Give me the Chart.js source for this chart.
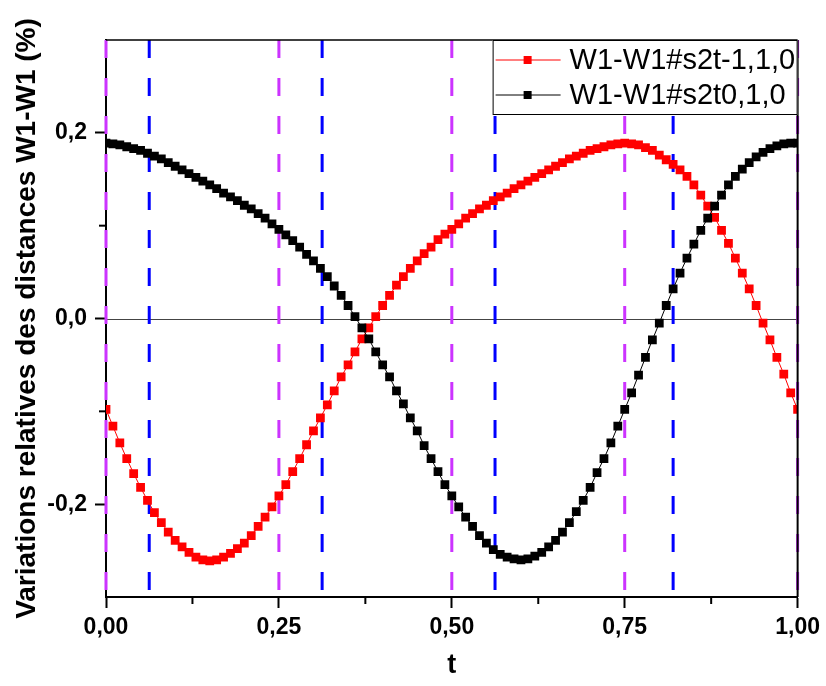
<!DOCTYPE html>
<html>
<head>
<meta charset="utf-8">
<script src="https://cdn.jsdelivr.net/npm/chart.js@4"></script>
<style>
  html, body { margin: 0; padding: 0; background: #fff; }
  #wrap { width: 826px; height: 686px; }
</style>
</head>
<body>
<div id="wrap"><canvas id="myChart" width="826" height="686"></canvas></div>
<script>
// t values (x axis)
const tValues = [
  0.00, 0.01, 0.02, 0.03, 0.04, 0.05, 0.06, 0.07, 0.08, 0.09,
  0.10, 0.11, 0.12, 0.13, 0.14, 0.15, 0.16, 0.17, 0.18, 0.19,
  0.20, 0.21, 0.22, 0.23, 0.24, 0.25, 0.26, 0.27, 0.28, 0.29,
  0.30, 0.31, 0.32, 0.33, 0.34, 0.35, 0.36, 0.37, 0.38, 0.39,
  0.40, 0.41, 0.42, 0.43, 0.44, 0.45, 0.46, 0.47, 0.48, 0.49,
  0.50, 0.51, 0.52, 0.53, 0.54, 0.55, 0.56, 0.57, 0.58, 0.59,
  0.60, 0.61, 0.62, 0.63, 0.64, 0.65, 0.66, 0.67, 0.68, 0.69,
  0.70, 0.71, 0.72, 0.73, 0.74, 0.75, 0.76, 0.77, 0.78, 0.79,
  0.80, 0.81, 0.82, 0.83, 0.84, 0.85, 0.86, 0.87, 0.88, 0.89,
  0.90, 0.91, 0.92, 0.93, 0.94, 0.95, 0.96, 0.97, 0.98, 0.99,
  1.00
];

// W1-W1#s2t-1,1,0 (red)
const redValues = [
  -0.098, -0.116, -0.134, -0.151, -0.167, -0.182, -0.196, -0.209, -0.220, -0.230,
  -0.239, -0.246, -0.252, -0.257, -0.260, -0.261, -0.260, -0.257, -0.253, -0.248,
  -0.242, -0.234, -0.224, -0.214, -0.203, -0.191, -0.179, -0.165, -0.151, -0.136,
  -0.121, -0.107, -0.093, -0.078, -0.063, -0.050, -0.036, -0.022, -0.010, 0.002,
  0.014, 0.025, 0.036, 0.045, 0.054, 0.062, 0.070, 0.077, 0.085, 0.091,
  0.096, 0.102, 0.108, 0.113, 0.118, 0.122, 0.127, 0.131, 0.135, 0.140,
  0.144, 0.148, 0.152, 0.156, 0.160, 0.164, 0.168, 0.172, 0.175, 0.178,
  0.181, 0.183, 0.185, 0.187, 0.188, 0.189, 0.188, 0.187, 0.184, 0.181,
  0.176, 0.171, 0.166, 0.160, 0.153, 0.144, 0.133, 0.121, 0.109, 0.095,
  0.081, 0.065, 0.049, 0.032, 0.014, -0.005, -0.023, -0.042, -0.060, -0.080,
  -0.098
];

// W1-W1#s2t0,1,0 (black)
const blackValues = [
  0.189, 0.188, 0.187, 0.185, 0.183, 0.181, 0.178, 0.175, 0.172, 0.168,
  0.164, 0.160, 0.156, 0.152, 0.148, 0.144, 0.140, 0.135, 0.131, 0.127,
  0.122, 0.118, 0.113, 0.108, 0.102, 0.096, 0.090, 0.084, 0.077, 0.069,
  0.062, 0.054, 0.045, 0.035, 0.025, 0.014, 0.002, -0.010, -0.022, -0.036,
  -0.050, -0.063, -0.078, -0.092, -0.107, -0.121, -0.137, -0.151, -0.165, -0.179,
  -0.191, -0.203, -0.214, -0.224, -0.234, -0.242, -0.249, -0.254, -0.257, -0.259,
  -0.260, -0.259, -0.256, -0.252, -0.246, -0.239, -0.230, -0.220, -0.208, -0.196,
  -0.182, -0.166, -0.151, -0.134, -0.116, -0.098, -0.080, -0.061, -0.042, -0.023,
  -0.005, 0.014, 0.032, 0.049, 0.065, 0.080, 0.095, 0.108, 0.121, 0.133,
  0.144, 0.153, 0.161, 0.168, 0.174, 0.179, 0.183, 0.186, 0.188, 0.189,
  0.189
];

const seriesLabels = ['W1-W1#s2t-1,1,0', 'W1-W1#s2t0,1,0'];
const xTicks = [0, 0.25, 0.5, 0.75, 1];
const xMinorTicks = [0.125, 0.375, 0.625, 0.875];
const yTicks = [-0.2, 0, 0.2];
const yMinorTicks = [-0.1, 0.1];
const magentaLines = [0, 0.25, 0.5, 0.75, 1];
const blueLines = [0.0625, 0.3125, 0.5625, 0.82];

const FONT = '"Liberation Sans", Arial, Helvetica, sans-serif';

function toPoints(values) {
    return values.map((v, i) => ({ x: tValues[i], y: v }));
}

// dashed vertical markers, zero line, box, minor ticks, legend
const decorPlugin = {
    id: 'decor',
    beforeDatasetsDraw(chart) {
        const { ctx, chartArea: a, scales: { x, y } } = chart;
        ctx.save();
        // zero line
        ctx.strokeStyle = '#444';
        ctx.lineWidth = 1;
        const y0 = Math.round(y.getPixelForValue(0)) + 0.5;
        ctx.beginPath();
        ctx.moveTo(a.left, y0);
        ctx.lineTo(a.right, y0);
        ctx.stroke();

        ctx.lineWidth = 3;
        ctx.setLineDash([18, 20]);
        const drawV = (vals, color) => {
            ctx.strokeStyle = color;
            vals.forEach(v => {
                const px = x.getPixelForValue(v);
                ctx.beginPath();
                ctx.moveTo(px, a.top);
                ctx.lineTo(px, a.bottom);
                ctx.stroke();
            });
        };
        drawV(magentaLines, '#cc33ff');
        drawV(blueLines, '#0000ff');
        ctx.restore();
    },
    afterDraw(chart) {
        const { ctx, chartArea: a, scales: { x, y } } = chart;
        ctx.save();
        // top and right frame
        ctx.strokeStyle = '#000';
        ctx.lineWidth = 1.5;
        ctx.beginPath();
        ctx.moveTo(a.left, a.top);
        ctx.lineTo(a.right, a.top);
        ctx.stroke();
        ctx.lineWidth = 2;
        ctx.beginPath();
        ctx.moveTo(a.right, a.top);
        ctx.lineTo(a.right, a.bottom);
        ctx.stroke();

        // minor ticks
        ctx.lineWidth = 2;
        xMinorTicks.forEach(v => {
            const px = x.getPixelForValue(v);
            ctx.beginPath();
            ctx.moveTo(px, a.bottom);
            ctx.lineTo(px, a.bottom + 7);
            ctx.stroke();
        });
        yMinorTicks.forEach(v => {
            const py = y.getPixelForValue(v);
            ctx.beginPath();
            ctx.moveTo(a.left, py);
            ctx.lineTo(a.left - 7, py);
            ctx.stroke();
        });

        // legend box
        const lw = 305, lh = 75;
        const lx = a.right - lw, ly = a.top;
        ctx.fillStyle = '#fff';
        ctx.fillRect(lx, ly, lw, lh);
        ctx.strokeStyle = '#000';
        ctx.lineWidth = 1;
        ctx.strokeRect(lx + 0.5, ly + 0.5, lw - 1, lh - 1);

        chart.data.datasets.forEach((ds, i) => {
            const cy = ly + 20 + i * 35;
            ctx.strokeStyle = ds.borderColor;
            ctx.lineWidth = 1;
            ctx.beginPath();
            ctx.moveTo(lx + 3, cy);
            ctx.lineTo(lx + 68, cy);
            ctx.stroke();
            ctx.fillStyle = ds.pointBackgroundColor;
            ctx.fillRect(lx + 35 - 4, cy - 4, 8, 8);
            ctx.fillStyle = '#000';
            ctx.font = '29px ' + FONT;
            ctx.textBaseline = 'middle';
            ctx.textAlign = 'left';
            ctx.fillText(ds.label, lx + 77, cy + 1);
        });
        ctx.restore();
    }
};

const ctx = document.getElementById('myChart').getContext('2d');
const myChart = new Chart(ctx, {
    type: 'line',
    data: {
        datasets: [
            {
                label: seriesLabels[0],
                data: toPoints(redValues),
                borderColor: '#ff0000',
                backgroundColor: '#ff0000',
                pointBackgroundColor: '#ff0000',
                borderWidth: 1,
                pointStyle: 'rect',
                pointRadius: 6.2,
                pointBorderWidth: 0,
                fill: false,
                order: 1
            },
            {
                label: seriesLabels[1],
                data: toPoints(blackValues),
                borderColor: '#000000',
                backgroundColor: '#000000',
                pointBackgroundColor: '#000000',
                borderWidth: 1,
                pointStyle: 'rect',
                pointRadius: 6.2,
                pointBorderWidth: 0,
                fill: false,
                order: 0
            }
        ]
    },
    options: {
        responsive: false,
        animation: false,
        devicePixelRatio: 1,
        layout: { padding: { left: 0, top: 40, right: 28, bottom: 0 } },
        plugins: {
            legend: { display: false },
            tooltip: { enabled: false }
        },
        scales: {
            x: {
                type: 'linear',
                min: 0,
                max: 1,
                afterBuildTicks: scale => { scale.ticks = xTicks.map(v => ({ value: v })); },
                afterFit: scale => { scale.height = 89; },
                border: { display: true, color: '#000', width: 2 },
                grid: { drawOnChartArea: false, drawTicks: true, tickLength: 11, tickWidth: 2, tickColor: '#000' },
                ticks: {
                    color: '#000',
                    padding: 6,
                    maxRotation: 0,
                    font: { family: FONT, size: 23, weight: 'bold' },
                    callback: v => v.toFixed(2).replace('.', ',')
                },
                title: {
                    display: true,
                    text: 't',
                    color: '#000',
                    font: { family: FONT, size: 27, weight: 'bold' },
                    padding: { top: 0, bottom: 4 }
                }
            },
            y: {
                type: 'linear',
                min: -0.3,
                max: 0.3,
                afterBuildTicks: scale => { scale.ticks = yTicks.map(v => ({ value: v })); },
                afterFit: scale => { scale.width = 106; },
                border: { display: true, color: '#000', width: 2 },
                grid: { drawOnChartArea: false, drawTicks: true, tickLength: 11, tickWidth: 2, tickColor: '#000' },
                ticks: {
                    color: '#000',
                    padding: 8,
                    font: { family: FONT, size: 23, weight: 'bold' },
                    callback: v => v.toFixed(1).replace('.', ',')
                },
                title: {
                    display: true,
                    text: 'Variations relatives des distances W1-W1 (%)',
                    color: '#000',
                    font: { family: FONT, size: 28, weight: 'bold' },
                    padding: { top: 10, bottom: 0 }
                }
            }
        }
    },
    plugins: [decorPlugin]
});
</script>
</body>
</html>
